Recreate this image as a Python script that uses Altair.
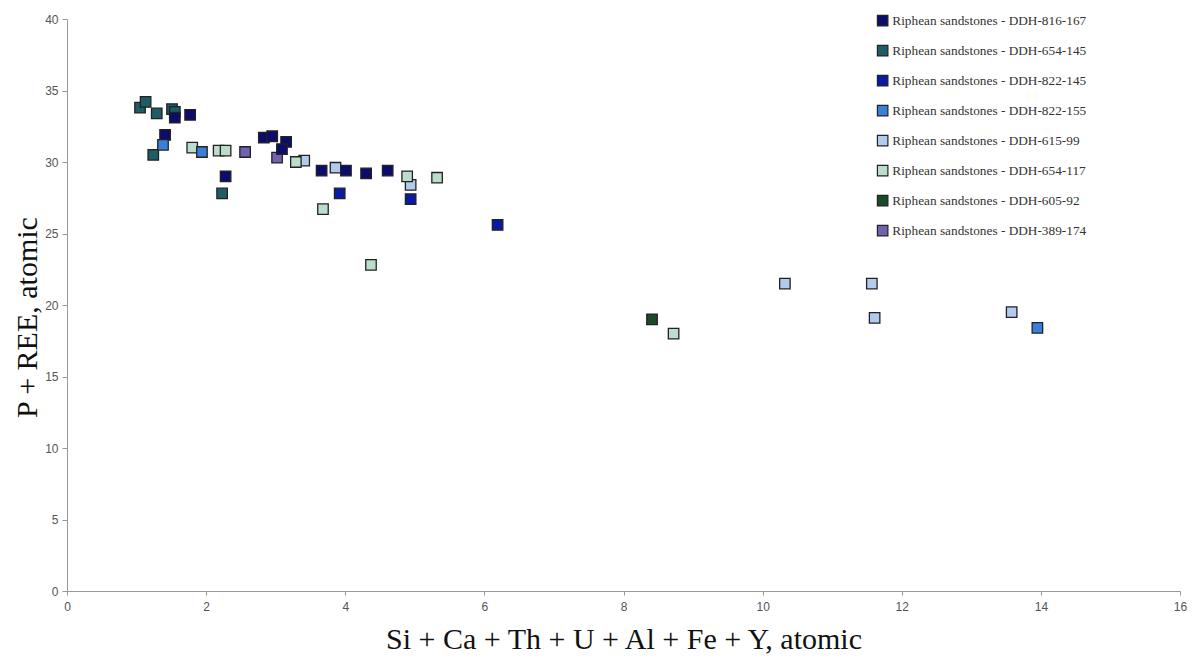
import altair as alt
import pandas as pd

series = [
    "Riphean sandstones - DDH-816-167",
    "Riphean sandstones - DDH-654-145",
    "Riphean sandstones - DDH-822-145",
    "Riphean sandstones - DDH-822-155",
    "Riphean sandstones - DDH-615-99",
    "Riphean sandstones - DDH-654-117",
    "Riphean sandstones - DDH-605-92",
    "Riphean sandstones - DDH-389-174",
]
colors = ["#0c0c6c", "#1e5c66", "#0a1aa2", "#3a80d8", "#b2caec", "#bcdccc", "#1a4a28", "#7262b2"]

x_816_167 = [1.55, 1.77, 1.41, 2.28, 2.83, 2.95, 3.15, 3.09, 3.66, 4.01, 4.30, 4.61]
y_816_167 = [33.1, 33.3, 31.9, 29.0, 31.7, 31.8, 31.4, 30.9, 29.4, 29.4, 29.2, 29.4]
x_654_145 = [1.05, 1.13, 1.29, 1.51, 1.55, 1.24, 2.23]
y_654_145 = [33.8, 34.2, 33.4, 33.7, 33.5, 30.5, 27.8]
x_822_145 = [3.92, 4.94, 6.19]
y_822_145 = [27.8, 27.4, 25.6]
x_822_155 = [1.38, 1.94, 13.95]
y_822_155 = [31.2, 30.7, 18.4]
x_615_99 = [3.41, 3.86, 4.94, 10.32, 11.57, 11.61, 13.58]
y_615_99 = [30.1, 29.6, 28.4, 21.5, 21.5, 19.1, 19.5]
x_654_117 = [1.80, 2.18, 2.28, 3.29, 3.68, 4.89, 5.32, 4.37, 8.72]
y_654_117 = [31.0, 30.8, 30.8, 30.0, 26.7, 29.0, 28.9, 22.8, 18.0]
x_605_92 = [8.41]
y_605_92 = [19.0]
x_389_174 = [2.56, 3.02]
y_389_174 = [30.7, 30.3]

xs = [x_816_167, x_654_145, x_822_145, x_822_155, x_615_99, x_654_117, x_605_92, x_389_174]
ys = [y_816_167, y_654_145, y_822_145, y_822_155, y_615_99, y_654_117, y_605_92, y_389_174]

rows = []
for name, xv, yv in zip(series, xs, ys):
    for a, b in zip(xv, yv):
        rows.append({"series": name, "x": a, "y": b})
df = pd.DataFrame(rows)

serif = "Liberation Serif"
sans = "Liberation Sans"

chart = alt.Chart(df).mark_point(
    shape="square", filled=True, size=110, stroke="#222222", strokeWidth=1.3, opacity=1
).encode(
    x=alt.X("x:Q", scale=alt.Scale(domain=[0, 16], nice=False),
            axis=alt.Axis(values=list(range(0, 17, 2)), grid=False, title="Si + Ca + Th + U + Al + Fe + Y, atomic",
                          titleFont=serif, titleFontSize=30, titleFontWeight="normal", titleColor="#111",
                          titleBaseline="alphabetic", titleY=57,
                          labelFont=sans, labelFontSize=12, labelColor="#555", domainColor="#999",
                          tickColor="#999", tickSize=4, labelPadding=6, labelFlush=False)),
    y=alt.Y("y:Q", scale=alt.Scale(domain=[0, 40], nice=False),
            axis=alt.Axis(values=list(range(0, 41, 5)), grid=False, title="P + REE, atomic",
                          titleFont=serif, titleFontSize=30, titleFontWeight="normal", titleColor="#111",
                          titleX=-25, titleY=298,
                          labelFont=sans, labelFontSize=12, labelColor="#555", domainColor="#999",
                          tickColor="#999", tickSize=5, labelPadding=4, labelFlush=False)),
    color=alt.Color("series:N", scale=alt.Scale(domain=series, range=colors),
                    legend=alt.Legend(title=None, orient="none", legendX=809, legendY=-5,
                                      labelFont=serif, labelFontSize=13.3, labelColor="#333",
                                      symbolType="square", symbolSize=110, symbolStrokeColor="#222",
                                      symbolStrokeWidth=1.2, symbolOpacity=1, rowPadding=14,
                                      labelOffset=3, labelLimit=400)),
    order=alt.Order("series:N"),
).properties(
    width=1113, height=572,
    background="white",
    padding={"left": 59, "top": 11, "right": 8, "bottom": 65},
    autosize=alt.AutoSizeParams(type="none"),
).configure_view(stroke=None)

chart.save("out.html", embed_options={"renderer": "svg", "actions": False})
